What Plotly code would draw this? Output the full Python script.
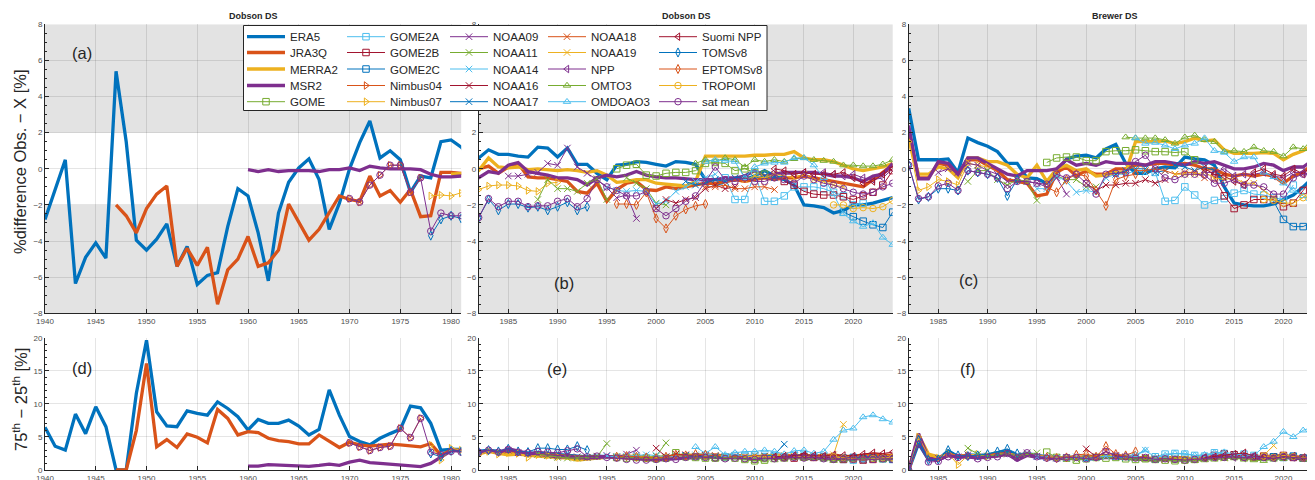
import plotly.graph_objects as go

FONT = "Liberation Sans, Arial, Helvetica, sans-serif"
W, H = 1315, 480
OFF = 8  # page body margin of the html page (pixels)

# ---------------- colours (MATLAB default order) ----------------
C_BLUE, C_ORANGE, C_YELLOW, C_PURPLE = "#0072BD", "#D95319", "#EDB120", "#7E2F8E"
C_GREEN, C_LBLUE, C_DRED = "#77AC30", "#4DBEEE", "#A2142F"

# ======================= DATA =======================
# each entry: (first year, yearly values)
# ---- Dobson DS, % difference (panels a, b) ----
ERA5_DOB = (1940, [-2.8, -1.2, 0.5, -6.35, -4.9, -4.1, -4.95, 5.4, 1.5, -3.95,
                   -4.5, -3.9, -3.05, -5.4, -4.3, -6.4, -5.9, -5.75, -3.2, -1.1,
                   -1.5, -3.55, -6.2, -2.45, -0.75, 0.05, 0.55, -0.6, -3.35, -1.9,
                   0.0, 1.45, 2.65, 0.6, 1.0, 0.5, -1.3, -0.4, -0.5, 1.5,
                   1.6, 1.2, 0.6, 1.05, 0.8, 0.8, 0.7, 0.65, 1.2, 1.15,
                   0.65, 1.15, 0.25, 0.25, -0.25, -0.6, 0.2, 0.25, 0.4, 0.35,
                   0.25, 0.15, 0.4, 0.35, 0.25, -0.6, -0.9, -0.7, -0.6, -0.6,
                   -0.4, -0.1, -0.4, -0.6, -0.9, -2.0, -2.05, -2.15, -2.45, -2.3,
                   -2.0, -2.0, -1.9, -1.75, -1.6])
JRA3Q_DOB = (1947, [-2.0, -2.6, -3.55,
                    -2.2, -1.4, -0.95, -5.4, -4.4, -5.35, -4.35, -7.5, -5.6, -5.0,
                    -3.75, -5.4, -5.2, -4.5, -1.95, -2.95, -3.95, -3.35, -2.45, -1.5,
                    -1.7, -1.8, -0.4, -1.5, -1.2, -1.85, -1.15, -2.65, -2.6, -0.2,
                    -0.2, -0.25, 0.0, 0.15, -0.25, 0.1, 0.3, -0.45, -0.5, -0.5,
                    -0.6, -0.7, -1.25, -1.35, -0.8, -1.8, -1.15, -0.8, -0.7, -1.15,
                    -1.2, -1.0, -1.1, -1.0, -0.9, -0.8, -0.8, -0.7, -0.6, -0.7,
                    -0.6, -0.5, -0.6, -0.5, -0.5, -0.4, -0.5, -0.6, -0.7, -0.8,
                    -0.9, -1.0, -0.6, -0.2, 0.2])
MERRA2_DOB = (1980, [-0.3, -0.25, -0.1, 0.6, 0.1, 0.05, 0.1, -0.05, 0.0, -0.05,
                     -0.1, -0.05, -0.1, -0.2, -0.1, -0.35, -0.75, -0.7, -0.6, -0.6,
                     -0.8, -0.85, -0.9, -0.95, -0.7, 0.7, 0.7, 0.7, 0.7, 0.7,
                     0.75, 0.75, 0.8, 0.8, 0.95, 0.6, 0.5, 0.5, 0.4, 0.2,
                     0.0, -0.1, 0.0, 0.1, 0.3])
MSR2_DOB = (1960, [-0.05, -0.15, -0.05, -0.15, -0.1, -0.1, -0.1, -0.15, -0.05, -0.05,
                   0.05, -0.1, 0.15, 0.05, 0.0, 0.0, 0.0, -0.05, -0.3, -0.45,
                   -0.45, -0.4, -0.5, -0.15, -0.25, 0.2, 0.35, -0.15, -0.25, -0.35,
                   -0.5, -0.5, -0.6, -0.9, -0.5, -0.35, -0.45, -0.35, -0.15, -0.35,
                   -0.45, -0.5, -0.5, -0.55, -0.6, -0.6, -0.6, -0.5, -0.5, -0.4,
                   -0.1, -0.4, -0.3, -0.2, -0.2, -0.2, -0.2, -0.3, -0.4, -0.4,
                   -0.5, -0.7, -0.4, -0.3, 0.3])
GOME_DOB = (1996, [0.0, 0.2, 0.25, -0.35, -0.4, -0.25, -0.2, -0.2, -0.1, 0.3, 0.35, 0.3, -0.1, 0.0, -0.2, -0.3])
GOME2A_DOB = (2007, [-0.5, -1.7, -1.7, -0.3, -1.8, -1.8, -1.5, -1.0, -1.0, -1.0, -1.1, -1.3, -1.5, -2.0, -1.9])
GOME2B_DOB = (2013, [-0.7, -0.9, -1.25, -1.4, -1.45, -1.45, -1.55, -1.7, -1.5, -1.3, -0.9, -0.1])
GOME2C_DOB = (2019, [-2.4, -2.65, -2.9, -3.1, -3.25, -2.4])
NIMBUS04_DOB = (1970, [-1.65, -1.85, -0.9, -0.35, 0.2, 0.2, -1.3, -0.5])
NIMBUS07_DOB = (1978, [-1.5, -1.45, -1.5, -1.35, -1.15, -0.95, -0.9, -0.9, -0.95, -1.2, -1.25, -0.8, -0.75])
NOAA09_DOB = (1985, [-0.4, -0.4, -0.3, -0.2, 0.3, 0.2, 1.15, 0.1, -0.25, -0.6, -1.05, -1.6, -1.45, -2.75])
NOAA11_DOB = (1988, [-1.7, -0.6, -1.1, -1.1, -1.25, -0.8, -0.55, -1.7, None, -0.5, -0.8, -1.1, -1.9, -2.0])
NOAA14_DOB = (1995, [-1.0, -1.2, -1.25, -1.2, -1.25, -1.95, -1.8, -1.25, -1.0, -0.7, -0.5, -0.3])
NOAA16_DOB = (2000, [-2.2, -1.7, -1.9, -1.7, -1.6, -1.1, -0.9, -1.1, -1.0])
NOAA17_DOB = (2003, [-0.7, -0.9, -0.8, -0.6, -0.7, -0.5, -0.4, -0.5, -0.4, -0.5, -0.4])
NOAA18_DOB = (2005, [-1.0, -1.0, -0.9, -1.1, -1.1, -1.0, -1.0, -1.15])
NOAA19_DOB = (2009, [-0.6, -0.4, -0.5, -0.3, -0.4, -0.5, -0.3, -0.6, -0.7, -0.9, -1.0])
NPP_DOB = (2012, [-0.2, -0.3, -0.3, -0.2, -0.3, -0.2, -0.3, -0.4, -0.3, -0.5, -0.6, -0.5, 0.0])
OMTO3_DOB = (2004, [0.3, 0.5, 0.4, 0.6, 0.5, 0.1, 0.5, 0.4, 0.5, 0.4, 0.55, 0.6, 0.5, 0.45, 0.4, 0.2, 0.2, 0.15, 0.15, 0.25, 0.5])
OMDOAO3_DOB = (2005, [0.4, 0.5, 0.45, 0.4, -0.5, 0.1, 0.3, 0.35, 0.35, 0.6, 0.6, 0.2, -0.5, -1.4, -2.5, -2.9, -3.2, -3.0, -3.8, -4.2])
SUOMI_DOB = (2012, [0.0, -0.1, -0.3, -0.2, -0.3, -0.3, -0.3, -0.2, -0.5, -0.8, -0.7, -0.3, 0.0])
TOMS_DOB = (1978, [-3.7, -2.8, -2.6, -2.75, -2.7, -1.7, -2.3, -1.95, -1.95, -2.15, -2.1, -2.3, -2.1, -1.85, -2.3, -2.1])
EPTOMS_DOB = (1996, [-1.95, -1.95, -2.0, -1.3, -2.75, -3.3, -2.6, -2.25, -2.05, -1.95])
TROPOMI_DOB = (2018, [-2.0, -2.0, -2.2, -2.15, -2.2, -2.1, -1.75])
SATMEAN_DOB = (1970, [-1.65, -1.85, -0.9, -0.35, 0.2, 0.2, -1.3, -0.5, -3.45, -2.45, -2.6, -2.6,
                      -2.7, -1.65, -2.1, -1.8, -1.8, -2.1, -2.05, -2.05, -1.8, -1.65, -2.1, -1.65,
                      -0.6, -1.0, -1.2, -1.5, -1.5, -1.25, -2.2, -2.6, -2.2, -1.8, -1.5,
                      -0.7, 0.1, -0.6, -0.7, -0.5, -0.7, -0.7, -0.5, -0.6, -0.8,
                      -0.4, -0.6, -0.8, -0.9, -1.1, -1.3, -1.4, -1.3, -1.0, -0.8])

# ---- Brewer DS, % difference (panel c) ----
ERA5_BRW = (1982, [3.35, 0.5, 0.5, 0.5, 0.55, -0.2, 1.7, 1.45, 1.25, 0.95,
                   0.3, 0.3, -0.5, -0.55, -0.8, -0.2, 0.55, 0.7, 0.75, 0.6,
                   1.1, 1.35, 0.3, -0.25, -0.25, 0.0, 0.1, 0.05, 0.65, 0.55,
                   0.5, 0.2, -1.0, -1.9, -2.0, -2.05, -2.05, -1.95, -1.7, -1.45,
                   -1.0, -0.5, -0.3])
JRA3Q_BRW = (1982, [2.0, -0.5, -0.5, 0.3, 0.2, -0.4, 0.5, 0.5, 0.2, -0.1,
                    -0.6, -0.7, -0.8, -1.5, -1.4, -0.2, 0.1, -0.4, -0.1, -0.3,
                    -0.3, 0.0, 0.0, 0.2, 0.2, 0.3, 0.3, 0.2, 0.3, 0.2,
                    0.0, 0.0, -0.3, -0.4, -0.3, -0.4, -0.3, -0.4, -0.8, -0.4,
                    -0.2, 0.3, 0.6])
MERRA2_BRW = (1982, [1.6, -0.3, -0.3, 0.1, 0.0, -0.5, 0.6, 0.6, 0.4, 0.4,
                     0.2, -0.3, -0.5, 0.2, -0.7, 0.0, 0.2, -0.1, 0.0, -0.4,
                     -0.35, -0.2, -0.2, 1.5, 1.5, 1.5, 1.55, 1.4, 1.5, 1.7,
                     1.55, 1.6, 1.05, 0.85, 0.85, 0.85, 0.9, 0.85, 0.5, 0.8,
                     1.0, 1.35, 1.6])
MSR2_BRW = (1982, [2.4, -0.55, -0.55, 0.4, 0.3, -0.3, 0.6, 0.6, 0.3, 0.0,
                   -0.3, -0.4, -0.1, -0.1, -0.1, 0.0, 0.5, 0.2, 0.3, 0.2,
                   0.4, 0.3, 0.3, 0.3, 0.2, 0.4, 0.4, 0.3, 0.2, 0.4,
                   0.3, 0.4, 0.2, 0.0, 0.0, 0.1, 0.3, 0.2, -0.1, 0.1,
                   0.1, 0.5, 0.9])
GOME_BRW = (1996, [0.35, 0.6, 0.65, 0.65, 0.45, 0.45, 0.95, 1.0, 1.0, 1.05, 1.0, 0.95, 0.95, 0.9, 0.95, 0.5])
GOME2A_BRW = (2007, [-0.2, -1.8, -1.75, -1.0, -1.45, -2.0, -1.75, -1.65, -1.35, -1.2, -1.4, -1.45, -1.6, -1.7, -0.9])
GOME2B_BRW = (2013, [-0.5, -1.5, -2.2, -2.0, -1.7, -1.7, -1.7, -2.1, -1.9, -1.2, -0.5, 0.9])
GOME2C_BRW = (2019, [-1.8, -2.8, -3.2, -3.2, -2.9, -2.3])
NIMBUS04_BRW = (1982, [])
NIMBUS07_BRW = (1982, [1.5, -1.2, -1.0, -0.6, -0.7, -0.9, 0.3, 0.2, 0.1])
NOAA09_BRW = (1985, [-0.2, 0.0, -0.2, 0.3, 0.2, -0.1, -0.3, -0.7, -0.6, -0.7, -0.8, -1.0, -0.5, -1.4])
NOAA11_BRW = (1988, [-0.7, -0.1, -0.1, -0.6, -0.9, -0.6, -0.7, -1.75, None, -0.4, -0.6, -0.6, -1.0, -1.0])
NOAA14_BRW = (1995, [-1.1, -1.1, -0.4, -0.7, -1.3, -1.2, -1.3, -0.5, -0.3, -0.3, -0.1, -0.2])
NOAA16_BRW = (2000, [-0.8, -1.2, -0.9, -0.9, -0.8, -0.8, -0.6, -0.8, -0.6])
NOAA17_BRW = (2003, [-0.3, -0.1, 0.0, 0.0, -0.2, -0.1, 0.2, 0.1, -0.1, 0.1, -0.1])
NOAA18_BRW = (2005, [-0.1, -0.1, 0.0, -0.1, -0.3, -0.2, -0.2, -0.5])
NOAA19_BRW = (2009, [-0.3, -0.3, -0.3, -0.2, -0.5, -0.6, -0.5, -0.8, -0.8, -1.2, -1.6])
NPP_BRW = (2012, [-0.2, -0.2, 0.0, -0.4, -0.3, -0.3, -0.2, -0.4, -0.5, -0.2, -0.2, -0.4, -0.1])
OMTO3_BRW = (2004, [1.75, 1.7, 1.7, 1.7, 1.6, 1.4, 1.75, 1.85, 1.6, 1.5, 0.95, 1.0, 0.95, 1.2, 1.0, 0.95, 0.7, 1.2, 1.1, 1.7, 1.8])
OMDOAO3_BRW = (2005, [1.7, 1.4, 1.45, 1.3, 1.1, 1.3, 1.4, 1.7, 1.0, 0.9, 0.4, 0.65, 0.65, -0.2, -0.45, -0.8, -1.2, -1.5, -2.2, -2.4])
SUOMI_BRW = (2012, [0.0, -0.3, -0.4, -0.7, -0.9, -0.2, 0.0, -0.3, -0.4, 0.0, -0.3, 0.3, 0.5])
TOMS_BRW = (1982, [0.2, -1.7, -1.55, -1.1, -1.1, -1.2, -0.1, -0.2, -0.3, -0.5, -1.5, -0.6])
EPTOMS_BRW = (1996, [-1.0, -1.3, -0.6, -0.3, -0.4, -1.2, -2.05, -0.6, -0.4, -0.3])
TROPOMI_BRW = (2018, [-1.7, -1.75, -1.9, -1.9, -1.6, -1.15, -1.0])
SATMEAN_BRW = (1982, [0.2, -1.65, -1.55, -0.95, -0.8, -1.2, -0.1, -0.2, -0.3, -0.5,
                      -1.1, -0.7, -0.7, -0.8, -0.85, -0.3, -0.5, -0.3, -0.8, -1.4,
                      -0.3, -0.25, -0.2, 0.4, 0.75, 0.0, -0.5, -0.6, -0.3, -0.3,
                      -0.35, -0.8, -0.8, -0.6, -0.9, -0.9, -1.0, -1.4, -1.4, -0.5,
                      -0.3, -0.3, -0.1])

# ---- Dobson DS, 75th-25th percentile spread (panels d, e) ----
ERA5_DIQR = (1940, [6.45, 3.6, 3.0, 8.45, 5.5, 9.55, 6.55, 0.0, 0.0, 11.6,
                    19.6, 8.8, 6.65, 6.55, 8.95, 8.55, 8.3, 10.3, 9.3, 8.05,
                    6.05, 7.65, 7.05, 7.05, 7.55, 6.65, 5.3, 6.15, 12.1, 8.3,
                    5.05, 4.3, 3.8, 4.8, 5.5, 6.15, 9.65, 9.4, 7.05, 3.0,
                    3.1, 3.1, 2.8, 3.0, 2.8, 2.9, 2.7, 2.5, 2.6, 2.5,
                    2.4, 2.3, 2.2, 2.0, 2.1, 2.0, 2.0, 1.9, 1.8, 1.8,
                    1.7, 1.9, 2.0, 2.1, 2.2, 2.3, 2.1, 2.0, 2.1, 2.0,
                    1.9, 2.0, 2.1, 2.0, 2.1, 2.2, 2.1, 2.2, 2.0, 1.9,
                    2.0, 2.1, 2.0, 1.9, 2.0])
JRA3Q_DIQR = (1947, [0.0, 0.0, 6.0,
                     16.1, 3.5, 4.6, 3.4, 5.45, 4.95, 4.1, 9.15, 7.8, 5.3,
                     5.8, 5.65, 4.8, 4.45, 4.3, 3.95, 3.95, 5.3, 4.3, 3.4,
                     4.2, 3.8, 3.6, 3.8, 3.9, 3.8, 3.6, 3.5, 4.0, 2.25,
                     3.0, 2.9, 2.6, 2.9, 2.7, 2.6, 2.5, 2.4, 2.4, 2.3,
                     2.2, 2.1, 2.0, 1.9, 2.0, 1.9, 2.0, 2.1, 2.0, 1.9,
                     1.8, 2.0, 2.2, 2.3, 2.1, 2.2, 2.3, 2.1, 2.2, 2.1,
                     2.0, 2.1, 2.2, 2.3, 2.1, 2.0, 2.2, 2.1, 2.3, 2.0,
                     2.1, 2.2, 2.4, 2.3, 2.2])
MERRA2_DIQR = (1980, [3.0, 3.0, 2.4, 2.8, 2.5, 2.3, 2.4, 2.2, 2.1, 2.0,
                      1.9, 1.8, 1.5, 1.7, 1.8, 1.9, 2.0, 2.0, 1.9, 1.8,
                      1.9, 2.0, 2.1, 2.2, 2.3, 2.2, 2.1, 2.0, 1.9, 1.8,
                      2.0, 2.1, 2.2, 2.1, 2.0, 2.1, 2.0, 2.2, 1.9, 1.8,
                      1.9, 2.0, 1.8, 1.9, 2.0])
MSR2_DIQR = (1960, [0.6, 0.6, 0.8, 0.75, 0.7, 0.55, 0.55, 0.7, 0.9, 0.7,
                    1.2, 1.5, 1.1, 1.0, 0.9, 0.8, 0.7, 0.5, 1.0, 2.0,
                    2.9, 3.0, 2.5, 3.0, 2.6, 3.2, 2.8, 2.5, 2.4, 2.2,
                    2.0, 2.0, 1.9, 1.8, 1.9, 2.0, 1.9, 1.8, 1.6, 1.5,
                    1.5, 1.6, 1.7, 1.8, 1.9, 2.0, 1.9, 1.8, 1.9, 1.8,
                    1.7, 1.8, 1.9, 1.8, 1.9, 1.8, 1.7, 1.8, 1.7, 1.6,
                    1.7, 1.8, 1.9, 1.7, 1.6])
GOME_DIQR = (1996, [1.9, 1.8, 1.9, 1.8, 1.7, 1.8, 2.6, 2.0, 1.9, 1.8, 1.8, 1.9, 1.8, 1.6, 1.4, 1.5])
GOME2A_DIQR = (2007, [2.0, 2.2, 2.1, 2.3, 2.0, 2.1, 2.0, 2.2, 2.1, 2.0, 1.9, 1.8, 1.6, 1.5, 1.7])
GOME2B_DIQR = (2013, [1.9, 1.8, 2.0, 1.9, 2.0, 1.7, 1.6, 1.7, 1.5, 1.6, 1.8, 1.7])
GOME2C_DIQR = (2019, [1.8, 1.9, 1.7, 1.8, 1.7, 1.6])
NIMBUS04_DIQR = (1970, [4.1, 3.5, 2.95, 3.4, 3.6, 6.3, 4.9, 7.8])
NIMBUS07_DIQR = (1978, [3.8, 1.5, 3.3, 3.0, 2.3, 2.8, 2.4, 2.6, 2.5, 1.9, 2.3, 2.2, 2.0])
NOAA09_DIQR = (1985, [3.0, 2.6, 2.5, 2.4, 2.2, 2.1, 2.3, 2.0, 1.9, 2.1, 2.2, 2.0, 2.4, 3.0])
NOAA11_DIQR = (1988, [2.4, 2.2, 1.9, 1.8, 1.8, 1.9, 2.0, 4.0, None, 2.0, 1.9, 1.8, 2.1, 4.1])
NOAA14_DIQR = (1995, [2.1, 2.0, 2.1, 2.2, 2.3, 2.2, 2.0, 2.1, 2.2, 2.3, 2.4, 2.2])
NOAA16_DIQR = (2000, [3.3, 2.0, 2.4, 2.3, 2.1, 2.2, 2.0, 1.9, 2.0])
NOAA17_DIQR = (2003, [2.2, 2.0, 2.1, 2.0, 1.9, 2.1, 2.0, 2.2, 2.1, 2.3, 3.9])
NOAA18_DIQR = (2005, [2.1, 2.2, 2.0, 2.1, 2.0, 2.2, 2.1, 2.0])
NOAA19_DIQR = (2009, [2.0, 2.1, 1.9, 2.0, 2.2, 2.1, 2.0, 2.1, 2.0, 2.3, 6.9])
NPP_DIQR = (2012, [1.9, 2.0, 2.1, 2.2, 2.0, 1.9, 2.1, 1.8, 1.9, 2.0, 1.9, 2.0, 2.1])
OMTO3_DIQR = (2004, [1.9, 1.8, 1.7, 1.8, 1.9, 1.6, 1.4, 1.5, 1.5, 1.6, 1.8, 1.7, 1.8, 1.6, 1.4, 1.5, 1.6, 1.7, 1.6, 1.5, 1.6])
OMDOAO3_DIQR = (2004, [3.5, 2.5, 3.5, 2.3, 2.6, 2.8, 2.8, 3.0, 2.8, 2.4, 2.9, 3.0, 2.5, 2.8, 4.6, 6.0, 6.3, 8.0, 8.3, 7.7, 7.2])
SUOMI_DIQR = (2012, [2.0, 2.1, 2.2, 2.3, 2.2, 2.1, 2.3, 2.2, 2.1, 2.4, 2.6, 2.5, 2.7])
TOMS_DIQR = (1978, [2.5, 2.0, 2.9, 2.8, 2.7, 3.0, 2.8, 3.2, 2.8, 2.7, 3.3, 3.3, 3.1, 3.1, 3.6, 3.0])
EPTOMS_DIQR = (1996, [2.0, 2.1, 2.0, 1.9, 1.8, 2.0, 2.3, 2.2, 2.4, 2.3])
TROPOMI_DIQR = (2018, [2.0, 1.8, 1.6, 1.5, 1.7, 1.8, 1.9])
SATMEAN_DIQR = (1970, [4.1, 3.5, 2.95, 3.4, 3.6, 6.3, 4.9, 7.8, 2.7, 2.3, 2.8, 2.7,
                       2.7, 3.0, 2.7, 3.1, 2.7, 2.6, 2.8, 2.7, 2.6, 2.9, 3.2, 2.0,
                       2.1, 1.9, 1.8, 1.6, 1.5, 1.5, 1.6, 1.7, 1.6, 1.9, 2.0,
                       1.9, 1.8, 1.7, 1.8, 1.7, 1.6, 1.8, 1.7, 1.8, 1.9,
                       1.8, 1.9, 1.7, 1.6, 1.7, 1.6, 1.5, 1.6, 1.7, 1.6])

# ---- Brewer DS, 75th-25th percentile spread (panel f) ----
ERA5_BIQR = (1982, [0.0, 4.0, 1.6, 1.6, 2.9, 2.0, 2.3, 2.2, 2.3, 2.6,
                    2.9, 2.2, 2.5, 2.2, 2.0, 1.8, 1.9, 1.9, 1.6, 1.8,
                    2.0, 2.1, 1.9, 1.8, 1.8, 1.6, 1.7, 1.6, 1.5, 1.6,
                    1.7, 1.8, 1.9, 2.0, 2.1, 1.9, 1.8, 1.9, 2.0, 1.9,
                    1.8, 1.6, 1.7])
JRA3Q_BIQR = (1982, [0.0, 5.0, 2.2, 1.8, 2.4, 2.1, 2.2, 2.1, 2.2, 2.3,
                     2.5, 2.0, 2.3, 2.1, 2.0, 1.9, 1.8, 1.9, 2.0, 2.1,
                     2.2, 2.0, 2.1, 1.9, 1.8, 1.7, 1.8, 1.9, 1.8, 1.7,
                     1.9, 2.0, 2.1, 2.2, 2.0, 2.1, 2.0, 2.1, 2.2, 2.0,
                     1.9, 1.8, 1.9])
MERRA2_BIQR = (1982, [0.0, 5.3, 2.4, 2.0, 2.2, 2.0, 2.1, 2.2, 2.0, 2.2,
                      2.4, 2.1, 2.3, 2.0, 1.9, 1.8, 1.9, 1.8, 1.9, 2.0,
                      2.1, 2.0, 1.9, 1.8, 1.7, 1.6, 1.8, 1.7, 1.6, 1.7,
                      1.8, 1.9, 2.0, 2.1, 1.9, 1.8, 1.9, 2.0, 2.1, 1.9,
                      1.8, 1.7, 1.8])
MSR2_BIQR = (1982, [0.0, 5.5, 1.8, 1.5, 2.2, 1.9, 2.0, 1.8, 2.0, 2.1,
                    2.4, 1.5, 2.2, 1.9, 1.8, 1.7, 1.8, 1.7, 1.8, 1.7,
                    1.9, 1.8, 1.8, 1.7, 1.6, 1.5, 1.6, 1.5, 1.6, 1.5,
                    1.7, 1.8, 1.9, 2.0, 1.9, 1.8, 1.7, 1.8, 1.9, 1.8,
                    1.7, 1.6, 1.5])
GOME_BIQR = (1996, [2.7, 1.9, 1.8, 1.5, 1.7, 1.9, 1.8, 1.9, 1.7, 1.6, 1.7, 1.6, 1.5, 1.4, 1.5, 1.6])
GOME2A_BIQR = (2007, [2.0, 2.4, 2.5, 2.4, 2.2, 2.1, 2.6, 2.5, 2.3, 2.4, 2.2, 2.0, 1.9, 2.1, 2.0])
GOME2B_BIQR = (2013, [2.2, 2.4, 2.3, 2.0, 1.9, 2.1, 2.0, 2.2, 1.9, 1.8, 1.7, 1.9])
GOME2C_BIQR = (2019, [2.0, 1.9, 2.1, 1.8, 1.6, 1.7])
NIMBUS04_BIQR = (1982, [])
NIMBUS07_BIQR = (1982, [0.0, 5.0, 2.2, 1.8, 2.5, 0.8, 2.2, 2.4, 2.1])
NOAA09_BIQR = (1985, [1.8, 2.2, 2.0, 2.3, 1.9, 2.1, 2.3, 2.4, 2.2, 2.6, 2.1, 1.9, 1.8, 1.9])
NOAA11_BIQR = (1988, [3.3, 2.4, 2.1, 2.3, 2.5, 2.1, 2.4, 2.6, None, 1.9, 1.7, 1.6, 1.8, 2.0])
NOAA14_BIQR = (1995, [2.0, 1.9, 1.8, 1.8, 2.0, 1.7, 1.9, 2.1, 2.0, 1.9, 2.1, 3.0])
NOAA16_BIQR = (2000, [3.2, 2.0, 2.8, 2.2, 2.0, 1.9, 1.8, 1.7, 1.6])
NOAA17_BIQR = (2003, [2.0, 1.9, 1.8, 1.9, 1.6, 1.8, 1.7, 1.6, 1.7, 1.8, 1.9])
NOAA18_BIQR = (2005, [2.0, 1.9, 1.7, 1.8, 1.7, 1.6, 1.7, 1.8])
NOAA19_BIQR = (2009, [1.8, 1.7, 1.6, 1.8, 1.9, 1.8, 2.0, 1.9, 1.8, 2.2, 3.7])
NPP_BIQR = (2012, [1.8, 1.9, 2.0, 1.9, 1.8, 2.0, 1.9, 1.8, 2.0, 1.9, 1.8, 1.7, 1.6])
OMTO3_BIQR = (2004, [1.8, 1.7, 1.6, 1.5, 1.6, 1.4, 1.5, 1.4, 1.5, 1.6, 1.7, 1.8, 1.6, 1.5, 1.4, 1.6, 1.7, 2.0, 1.6, 1.5, 1.6])
OMDOAO3_BIQR = (2004, [2.2, 2.3, 3.0, 1.9, 2.2, 2.5, 2.5, 2.2, 2.3, 2.6, 2.7, 2.4, 2.3, 2.2, 3.5, 4.3, 5.8, 5.0, 6.0, 6.5, 6.7])
SUOMI_BIQR = (2012, [1.9, 2.0, 2.2, 2.4, 2.6, 2.1, 2.0, 1.9, 2.0, 2.1, 1.9, 1.8, 2.0])
TOMS_BIQR = (1982, [0.0, 4.5, 1.5, 1.6, 3.0, 2.2, 2.1, 2.2, 2.4, 2.8, 3.2, 2.5])
EPTOMS_BIQR = (1996, [1.9, 1.8, 1.9, 2.3, 2.4, 2.0, 3.6, 2.4, 2.2, 2.8])
TROPOMI_BIQR = (2018, [2.1, 1.9, 2.2, 2.0, 1.8, 1.7, 1.8])
SATMEAN_BIQR = (1982, [0.0, 3.9, 1.2, 1.3, 2.0, 1.9, 2.1, 1.7, 1.9, 2.0,
                       2.5, 1.8, 2.6, 2.0, 1.8, 1.7, 1.9, 1.9, 1.7, 1.9,
                       2.8, 2.1, 2.0, 1.8, 1.9, 1.6, 1.7, 1.6, 1.5, 1.6,
                       1.8, 1.9, 1.9, 2.0, 1.9, 2.0, 1.9, 1.8, 2.0, 1.9,
                       1.8, 1.5, 1.6])

# ---- series table: name, colour, marker, data sets ----
SERIES = [
    ("ERA5", C_BLUE, None, ERA5_DOB, ERA5_BRW, ERA5_DIQR, ERA5_BIQR),
    ("JRA3Q", C_ORANGE, None, JRA3Q_DOB, JRA3Q_BRW, JRA3Q_DIQR, JRA3Q_BIQR),
    ("MERRA2", C_YELLOW, None, MERRA2_DOB, MERRA2_BRW, MERRA2_DIQR, MERRA2_BIQR),
    ("MSR2", C_PURPLE, None, MSR2_DOB, MSR2_BRW, MSR2_DIQR, MSR2_BIQR),
    ("GOME", C_GREEN, "square-open", GOME_DOB, GOME_BRW, GOME_DIQR, GOME_BIQR),
    ("GOME2A", C_LBLUE, "square-open", GOME2A_DOB, GOME2A_BRW, GOME2A_DIQR, GOME2A_BIQR),
    ("GOME2B", C_DRED, "square-open", GOME2B_DOB, GOME2B_BRW, GOME2B_DIQR, GOME2B_BIQR),
    ("GOME2C", C_BLUE, "square-open", GOME2C_DOB, GOME2C_BRW, GOME2C_DIQR, GOME2C_BIQR),
    ("Nimbus04", C_ORANGE, "triangle-right-open", NIMBUS04_DOB, NIMBUS04_BRW, NIMBUS04_DIQR, NIMBUS04_BIQR),
    ("Nimbus07", C_YELLOW, "triangle-right-open", NIMBUS07_DOB, NIMBUS07_BRW, NIMBUS07_DIQR, NIMBUS07_BIQR),
    ("NOAA09", C_PURPLE, "x-thin-open", NOAA09_DOB, NOAA09_BRW, NOAA09_DIQR, NOAA09_BIQR),
    ("NOAA11", C_GREEN, "x-thin-open", NOAA11_DOB, NOAA11_BRW, NOAA11_DIQR, NOAA11_BIQR),
    ("NOAA14", C_LBLUE, "x-thin-open", NOAA14_DOB, NOAA14_BRW, NOAA14_DIQR, NOAA14_BIQR),
    ("NOAA16", C_DRED, "x-thin-open", NOAA16_DOB, NOAA16_BRW, NOAA16_DIQR, NOAA16_BIQR),
    ("NOAA17", C_BLUE, "x-thin-open", NOAA17_DOB, NOAA17_BRW, NOAA17_DIQR, NOAA17_BIQR),
    ("NOAA18", C_ORANGE, "x-thin-open", NOAA18_DOB, NOAA18_BRW, NOAA18_DIQR, NOAA18_BIQR),
    ("NOAA19", C_YELLOW, "x-thin-open", NOAA19_DOB, NOAA19_BRW, NOAA19_DIQR, NOAA19_BIQR),
    ("NPP", C_PURPLE, "triangle-left-open", NPP_DOB, NPP_BRW, NPP_DIQR, NPP_BIQR),
    ("OMTO3", C_GREEN, "triangle-up-open", OMTO3_DOB, OMTO3_BRW, OMTO3_DIQR, OMTO3_BIQR),
    ("OMDOAO3", C_LBLUE, "triangle-up-open", OMDOAO3_DOB, OMDOAO3_BRW, OMDOAO3_DIQR, OMDOAO3_BIQR),
    ("Suomi NPP", C_DRED, "triangle-left-open", SUOMI_DOB, SUOMI_BRW, SUOMI_DIQR, SUOMI_BIQR),
    ("TOMSv8", C_BLUE, "diamond-tall-open", TOMS_DOB, TOMS_BRW, TOMS_DIQR, TOMS_BIQR),
    ("EPTOMSv8", C_ORANGE, "diamond-tall-open", EPTOMS_DOB, EPTOMS_BRW, EPTOMS_DIQR, EPTOMS_BIQR),
    ("TROPOMI", C_YELLOW, "circle-open", TROPOMI_DOB, TROPOMI_BRW, TROPOMI_DIQR, TROPOMI_BIQR),
    ("sat mean", C_PURPLE, "circle-open", SATMEAN_DOB, SATMEAN_BRW, SATMEAN_DIQR, SATMEAN_BIQR),
]

PANEL_TITLES = ["Dobson DS", "Dobson DS", "Brewer DS"]
PANEL_LETTERS = ["(a)", "(b)", "(c)", "(d)", "(e)", "(f)"]
YTITLE_TOP = "%difference Obs. \u2212 X [%]"
YTITLE_BOT = "75<sup>th</sup> \u2212 25<sup>th</sup> [%]"


def PX(p):
    """screen pixel x -> paper fraction"""
    return (p - OFF) / W


def PY(p):
    """screen pixel y -> paper fraction"""
    return 1 - (p - OFF) / H


# ======================= FIGURE =======================
fig = go.Figure()

# panel -> (data slot in SERIES tuple, axis suffix)
PANELS = [(0, ""), (0, "2"), (1, "3"), (2, "4"), (2, "5"), (3, "6")]

for i, (name, col, sym, *sets) in enumerate(SERIES):
    thick = sym is None
    for p, (di, ax) in enumerate(PANELS):
        start, vals = sets[di]
        if not vals and p != 1:
            continue
        yrs = list(range(start, start + len(vals)))
        fig.add_trace(go.Scatter(
            x=yrs, y=vals,
            mode="lines" if thick else "lines+markers",
            line=dict(color=col, width=3.3 if thick else 1.0),
            marker=dict(symbol=sym or "circle", size=6.5, color=col,
                        line=dict(color=col, width=1.0)),
            name=name,
            showlegend=(p == 1),
            legend="legend" if i == 0 else f"legend{i + 1}",
            xaxis="x" + ax, yaxis="y" + ax,
            hoverinfo="skip",
        ))

# axis geometry (screen pixels -> paper)
XDOM = [(PX(45), PX(461.2)), (PX(478.7), PX(892.7)), (PX(908.7), PX(1315))]
XRNG = [(1940, 1981), (1982, 2024), (1982, 2023.2)]
YDOM_TOP = (PY(313.3), PY(24.3))
YDOM_BOT = (PY(470), PY(337.7))

tickfont = dict(size=8, color="#4d4d4d", family=FONT)
common = dict(showline=True, linecolor="#262626", linewidth=0.8, ticks="inside",
              ticklen=4, tickwidth=0.8, tickcolor="#262626", showgrid=True,
              gridcolor="rgba(0,0,0,0.10)", gridwidth=1, zeroline=False,
              tickfont=tickfont, mirror=False, automargin=False)

layout_axes = {}
for k in range(6):
    col = k % 3
    top = k < 3
    sfx = "" if k == 0 else str(k + 1)
    layout_axes["xaxis" + sfx] = dict(common, domain=list(XDOM[col]), range=list(XRNG[col]),
                                      dtick=5, tick0=1940, anchor="y" + sfx)
    if top:
        layout_axes["yaxis" + sfx] = dict(common, domain=list(YDOM_TOP), range=[-8, 8], dtick=2,
                                          anchor="x" + sfx,
                                          minor=dict(ticks="inside", ticklen=2, dtick=0.5,
                                                     tickcolor="#262626", showgrid=False))
    else:
        layout_axes["yaxis" + sfx] = dict(common, domain=list(YDOM_BOT), range=[0, 20], dtick=5,
                                          anchor="x" + sfx,
                                          minor=dict(ticks="inside", ticklen=2, dtick=1,
                                                     tickcolor="#262626", showgrid=False))

shapes = []
for k in range(3):
    sfx = "" if k == 0 else str(k + 1)
    for y0, y1 in ((2, 8), (-8, -2)):
        shapes.append(dict(type="rect", xref="x" + sfx + " domain", yref="y" + sfx,
                           x0=0, x1=1, y0=y0, y1=y1, fillcolor="#e3e3e3",
                           line=dict(width=0), layer="below"))

# legend frame
shapes.append(dict(type="rect", xref="paper", yref="paper",
                   x0=PX(243.5), x1=PX(767), y0=PY(110.5), y1=PY(25.5),
                   fillcolor="white", line=dict(color="#262626", width=1), layer="above"))

annotations = []
TITLE_X = [253, 686, 1115]
for k, t in enumerate(PANEL_TITLES):
    annotations.append(dict(text=f"<b>{t}</b>", xref="paper", yref="paper",
                            x=PX(TITLE_X[k]), y=PY(16), xanchor="center", yanchor="middle",
                            showarrow=False, font=dict(size=9, color="#262626", family=FONT)))
LET_POS = [(0.09, 6.4), (0.205, -6.3), (0.146, -6.15), (0.09, 15.4), (0.19, 15.3), (0.146, 15.3)]
for k, lab in enumerate(PANEL_LETTERS):
    sfx = "" if k == 0 else str(k + 1)
    annotations.append(dict(text=lab, xref="x" + sfx + " domain", yref="y" + sfx,
                            x=LET_POS[k][0], y=LET_POS[k][1], xanchor="center", yanchor="middle",
                            showarrow=False, font=dict(size=16.5, color="#262626", family=FONT)))
annotations.append(dict(text=YTITLE_TOP, xref="paper", yref="paper", x=PX(20), y=PY(162),
                        xanchor="center", yanchor="middle", textangle=-90, showarrow=False,
                        font=dict(size=16.5, color="#262626", family=FONT)))
annotations.append(dict(text=YTITLE_BOT, xref="paper", yref="paper", x=PX(20), y=PY(400),
                        xanchor="center", yanchor="middle", textangle=-90, showarrow=False,
                        font=dict(size=16.5, color="#262626", family=FONT)))

# one legend per entry, laid out in 5 columns x 5 rows
LEG_COL_X = [247, 347, 450, 548, 659]
LEG_ROW_Y = [36.7, 52.5, 69.0, 85.5, 101.7]
legends = {}
for i in range(len(SERIES)):
    c, r = divmod(i, 5)
    key = "legend" if i == 0 else f"legend{i + 1}"
    legends[key] = dict(x=PX(LEG_COL_X[c] - 5), y=PY(LEG_ROW_Y[r]),
                        xanchor="left", yanchor="middle", xref="paper", yref="paper",
                        bgcolor="rgba(0,0,0,0)", borderwidth=0,
                        font=dict(size=11.5, color="#262626", family=FONT),
                        tracegroupgap=0, itemwidth=38)

fig.update_layout(
    width=W, height=H, margin=dict(l=0, r=0, t=0, b=0, pad=0, autoexpand=False),
    paper_bgcolor="white", plot_bgcolor="white",
    font=dict(family=FONT), shapes=shapes, annotations=annotations,
    **layout_axes, **legends,
)

fig.write_html("out.html")
